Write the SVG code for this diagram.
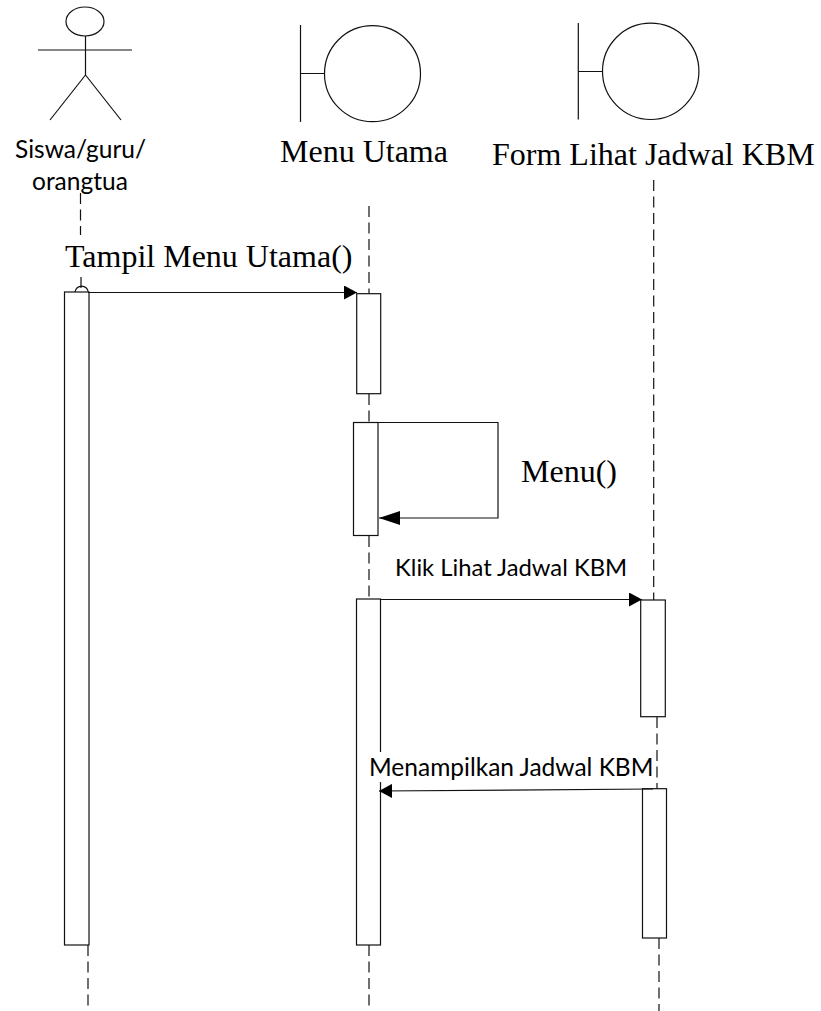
<svg xmlns="http://www.w3.org/2000/svg" width="821" height="1011" viewBox="0 0 821 1011">
<defs><marker id="a" markerWidth="13" markerHeight="14" refX="13" refY="7" orient="auto" markerUnits="userSpaceOnUse"><path d="M0 0L13 7L0 14Z" fill="#000"/></marker><marker id="b" markerWidth="21" markerHeight="14" refX="21" refY="7" orient="auto" markerUnits="userSpaceOnUse"><path d="M0 0L21 7L0 14Z" fill="#000"/></marker></defs>
<style>.l{fill:none;stroke:#111;stroke-width:1.2}.d{stroke-dasharray:11 5.500}.b{fill:#fff;stroke:#111;stroke-width:1.2}.s{font-family:"Liberation Serif",serif;font-size:32px;fill:#000}.c{font-family:Lato,"Open Sans",sans-serif;font-size:24.500px;fill:#000}</style>
<rect width="821" height="1011" fill="#fff"/>
<g id="connectors">
<path class="l d" d="M80.500 193V235M81 277V292M88 945V1012M369 206V294M369 394V423M369 536V599M369 945V1012M653.700 180V600M657 717V789M659 938V1012"/>
</g>
<g id="actor"><ellipse class="l" cx="85" cy="21.500" rx="19" ry="14.500"/><path class="l" d="M85.500 36V75M38 50H132M85.500 75L50 120M85.500 75L121 120"/><text class="c" x="15" y="158">Siswa/guru/</text><text class="c" x="32" y="190">orangtua</text></g>
<g id="menu-utama"><path class="l" d="M300.500 25V122M300.500 73.500H324.500"/><circle class="l" cx="372.500" cy="73.700" r="48"/><text class="s" x="280" y="162">Menu Utama</text></g>
<g id="form"><path class="l" d="M578.300 23V119.500M578.300 71.500H602.300"/><circle class="l" cx="650.700" cy="71.300" r="48.200"/><text class="s" x="492" y="164.500">Form Lihat Jadwal KBM</text></g>
<g id="act1"><rect class="b" x="64.500" y="292" width="24.500" height="653"/><path class="l" d="M75 292a6.700 6.700 0 0 1 13.300 0"/></g>
<g id="act2"><rect class="b" x="356.700" y="293.700" width="24" height="100"/></g>
<g id="act3"><rect class="b" x="353.500" y="422.500" width="24.500" height="113"/></g>
<g id="act4"><rect class="b" x="356.500" y="599" width="24" height="346"/></g>
<g id="act5"><rect class="b" x="640.700" y="600" width="24.600" height="116.700"/></g>
<g id="act6"><rect class="b" x="642.500" y="788.700" width="24" height="149.300"/></g>
<g id="messages">
<path class="l" d="M88 292.500H357" marker-end="url(#a)"/>
<path class="l" d="M378 422.500H498V518H379" marker-end="url(#b)"/>
<path class="l" d="M381 599.500H642" marker-end="url(#a)"/>
<path class="l" d="M653 789L379 791" marker-end="url(#a)"/>
</g>
<g id="labels"><rect x="378" y="752" width="274" height="30" fill="#fff"/><text class="s" x="65" y="267">Tampil Menu Utama()</text><text class="s" x="521" y="482">Menu()</text><text class="c" x="395" y="576" style="font-size:23.800px">Klik Lihat Jadwal KBM</text><text class="c" x="369" y="776">Menampilkan Jadwal KBM</text></g>
</svg>
